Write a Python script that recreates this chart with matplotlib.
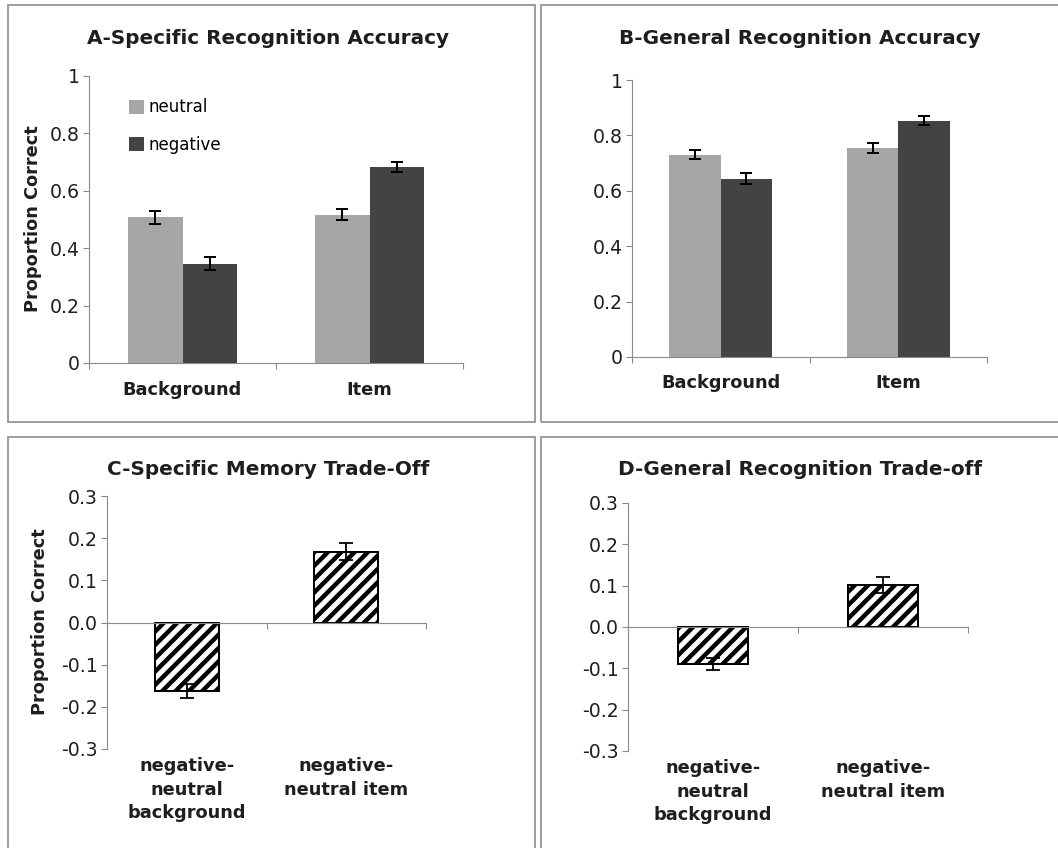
import matplotlib.pyplot as plt
from matplotlib.patches import Rectangle
import numpy as np

plt.rcParams['font.family'] = ['DejaVu Sans']
plt.rcParams['hatch.linewidth'] = 4.0

groups = ['Background', 'Item']
conditions = ['neutral', 'negative']

specific_neutral = [0.507, 0.517]
specific_negative = [0.346, 0.683]
specific_neutral_err = [0.022, 0.020]
specific_negative_err = [0.023, 0.019]

general_neutral = [0.730, 0.755]
general_negative = [0.643, 0.853]
general_neutral_err = [0.016, 0.019]
general_negative_err = [0.020, 0.017]

tradeoff_labels = ['negative-\nneutral\nbackground', 'negative-\nneutral item']
specific_tradeoff = [-0.162, 0.168]
specific_tradeoff_err = [0.017, 0.020]
general_tradeoff = [-0.090, 0.101]
general_tradeoff_err = [0.015, 0.019]

AXIS_GREY = '#8a8a8a'
TEXT = '#1e1e1e'
NEUTRAL = '#a6a6a6'
NEGATIVE = '#434343'

W, H = 1058, 848
fig = plt.figure(figsize=(W / 80, H / 80), dpi=80)


def px_box(x0, x1, ytop, ybot):
    return [x0 / W, 1 - ybot / H, (x1 - x0) / W, (ybot - ytop) / H]


def style_axes(ax):
    for side in ('top', 'right'):
        ax.spines[side].set_visible(False)
    for side in ('left', 'bottom'):
        ax.spines[side].set_color(AXIS_GREY)
        ax.spines[side].set_linewidth(1.0)
    ax.tick_params(axis='both', colors=AXIS_GREY, length=5, width=1.0,
                   labelcolor=TEXT, labelsize=17)
    ax.tick_params(axis='y', pad=3)


def accuracy_panel(ax, neutral, negative, neutral_err, negative_err):
    x = np.arange(len(groups))
    w = 0.29
    b1 = ax.bar(x - w / 2, neutral, w, color=NEUTRAL, label=conditions[0])
    b2 = ax.bar(x + w / 2, negative, w, color=NEGATIVE, label=conditions[1])
    ax.errorbar(x - w / 2, neutral, yerr=neutral_err, fmt='none', ecolor='black',
                elinewidth=1.8, capsize=5.5, capthick=1.8)
    ax.errorbar(x + w / 2, negative, yerr=negative_err, fmt='none', ecolor='black',
                elinewidth=1.8, capsize=5.5, capthick=1.8)
    ax.set_xlim(-0.5, 1.5)
    ax.set_ylim(0, 1)
    ticks = [0, 0.2, 0.4, 0.6, 0.8, 1.0]
    ax.set_yticks(ticks)
    ax.set_yticklabels(['%g' % t for t in ticks])
    ax.set_xticks([-0.5, 0.5, 1.5])
    ax.set_xticklabels([])
    style_axes(ax)
    for xi, name in zip(x, groups):
        ax.text(xi, -0.095, name, ha='center', va='center', fontsize=16,
                fontweight='bold', color=TEXT)
    return b1, b2


def tradeoff_panel(ax, values, errs, width):
    x = np.arange(len(tradeoff_labels))
    ax.bar(x, values, width, color='white', edgecolor='black', hatch='//',
           linewidth=1.8, zorder=2)
    ax.errorbar(x, values, yerr=errs, fmt='none', ecolor='black',
                elinewidth=1.6, capsize=6, capthick=1.6, zorder=3)
    ax.set_xlim(-0.5, 1.5)
    ax.set_ylim(-0.3, 0.3)
    ticks = [0.3, 0.2, 0.1, 0.0, -0.1, -0.2, -0.3]
    ax.set_yticks(ticks)
    ax.set_yticklabels(['%.1f' % t for t in ticks])
    ax.spines['bottom'].set_position(('data', 0))
    ax.set_xticks([-0.5, 0.5, 1.5])
    ax.set_xticklabels([])
    style_axes(ax)
    for xi, name in zip(x, tradeoff_labels):
        ax.text(xi, -0.032, name, ha='center', va='top', fontsize=16,
                fontweight='bold', color=TEXT, linespacing=1.4,
                transform=ax.get_xaxis_transform())


# panel frames
for x0, x1, y0, y1 in [(7.5, 535, 5, 422), (541, W + 10, 5, 422),
                       (7.5, 535, 437, H + 10), (541, W + 10, 437, H + 10)]:
    fig.patches.append(Rectangle((x0 / W, 1 - y1 / H), (x1 - x0) / W, (y1 - y0) / H,
                                 transform=fig.transFigure, fill=False,
                                 edgecolor='#8c8c8c', linewidth=1.5))

ax_a = fig.add_axes(px_box(89, 463, 76, 363))
bars = accuracy_panel(ax_a, specific_neutral, specific_negative,
                      specific_neutral_err, specific_negative_err)
ax_a.legend(handles=bars, loc='upper left', bbox_to_anchor=(0.09, 0.945),
            frameon=False, fontsize=15, handlelength=0.9, handleheight=0.9,
            handletextpad=0.25, labelspacing=1.15, borderaxespad=0)

ax_b = fig.add_axes(px_box(632, 987, 80, 357))
accuracy_panel(ax_b, general_neutral, general_negative,
               general_neutral_err, general_negative_err)

ax_c = fig.add_axes(px_box(107, 426, 496, 749))
tradeoff_panel(ax_c, specific_tradeoff, specific_tradeoff_err, 0.4)

ax_d = fig.add_axes(px_box(628, 968, 503, 751))
tradeoff_panel(ax_d, general_tradeoff, general_tradeoff_err, 0.41)

titles = [('A-Specific Recognition Accuracy', 268, 38),
          ('B-General Recognition Accuracy', 800, 38),
          ('C-Specific Memory Trade-Off', 268, 470),
          ('D-General Recognition Trade-off', 800, 470)]
for text, cx, cy in titles:
    fig.text(cx / W, 1 - cy / H, text, ha='center', va='center', fontsize=18,
             fontweight='bold', color=TEXT)

for cx, cy in [(33, 219), (40, 622)]:
    fig.text(cx / W, 1 - cy / H, 'Proportion Correct', rotation=90, ha='center',
             va='center', fontsize=16, fontweight='bold', color=TEXT)

fig.savefig('out.png', dpi=80, facecolor='white')
